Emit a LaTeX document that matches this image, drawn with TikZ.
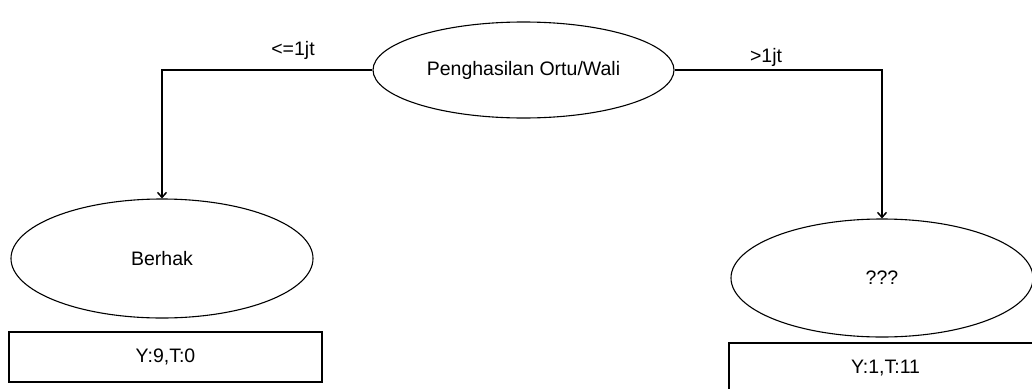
\documentclass[tikz,border=0pt]{standalone}
\usepackage{fontspec}
\setmainfont{Liberation Sans}
\usetikzlibrary{shapes.geometric,arrows.meta}
\begin{document}
\begin{tikzpicture}[x=1pt,y=-1pt,
  every node/.style={font=\fontsize{19.5}{22}\selectfont},
  oval/.style={draw,ellipse,line width=1.1pt,inner sep=0pt},
  leafbox/.style={draw,rectangle,line width=1.1pt,inner sep=0pt,minimum width=313pt,minimum height=50pt},
  conn/.style={line width=1.1pt,-{Straight Barb[length=5pt,width=9pt,line width=1.5pt]}}]
\useasboundingbox (0,0) rectangle (1032,388);
\node[oval,minimum width=301pt,minimum height=96pt] (root) at (523.5,70) {Penghasilan Ortu/Wali};
\node[oval,minimum width=302pt,minimum height=119pt] (berhak) at (162,258.5) {Berhak};
\node[oval,minimum width=302pt,minimum height=118pt] (unk) at (882,278) {???};
\node[leafbox] (b1) at (165.5,357) {Y:9,T:0};
\node[leafbox] (b2) at (885.5,368) {Y:1,T:11};
\node (l1) at (293,50) {<=1jt};
\node (l2) at (766,57) {>1jt};
\draw[conn] (root.west) -| (berhak.north);
\draw[conn] (root.east) -| (unk.north);
\end{tikzpicture}
\end{document}
